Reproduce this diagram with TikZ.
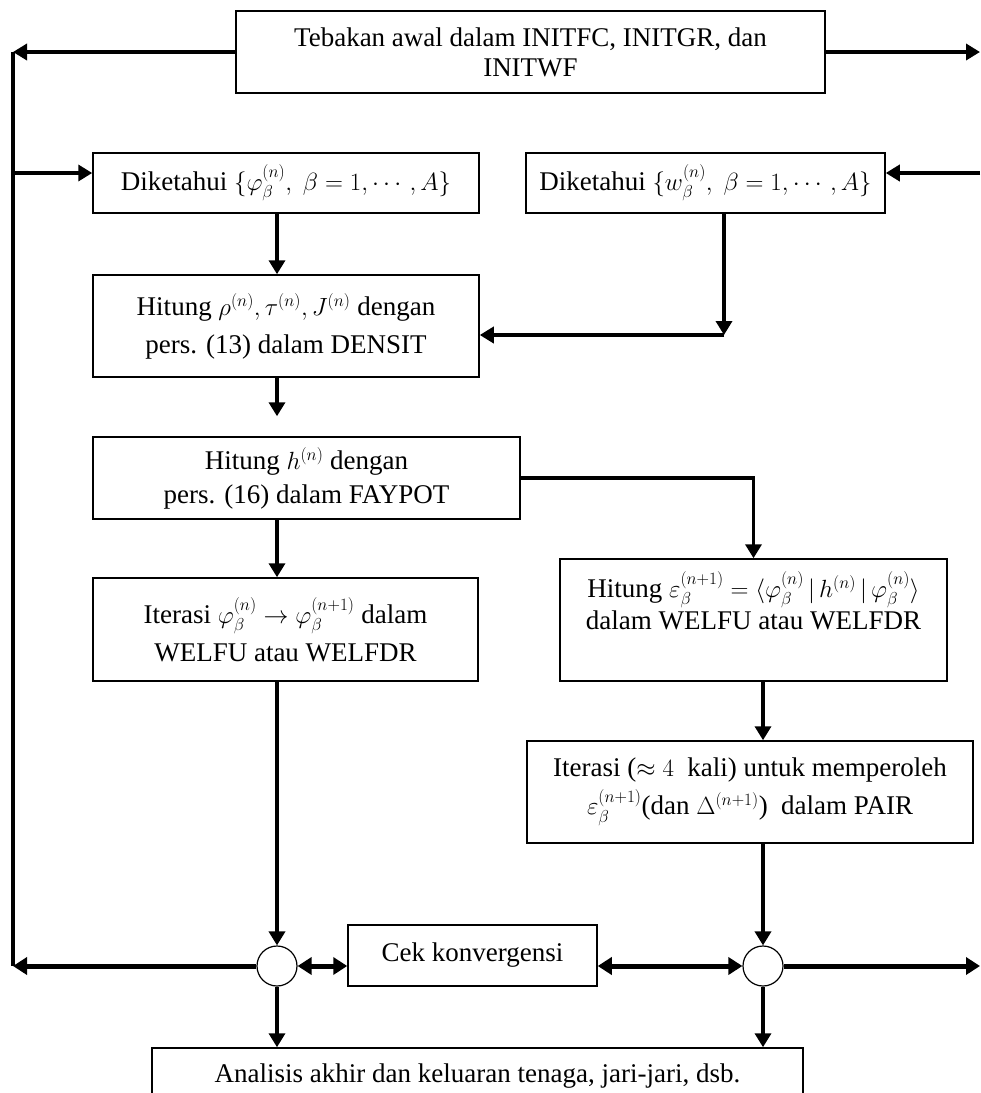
\documentclass[tikz,border=0pt]{standalone}
\usepackage{fontspec}
\setmainfont{Liberation Serif}
\usepackage{amsmath}
\usetikzlibrary{arrows.meta}

\begin{document}
\begin{tikzpicture}[x=1pt,y=-1pt,
  box/.style={draw=black, line width=1.5pt, align=center, inner sep=0pt, font=\fontsize{27}{38}\selectfont},
  arr/.style={black, line width=3.5pt, -{Triangle[length=14pt,width=16pt]}},
  heavy/.style={black, line width=5pt, -{Triangle[length=14pt,width=17pt]}},
  both/.style={black, line width=5pt, {Triangle[length=14pt,width=17pt]}-{Triangle[length=14pt,width=17pt]}},
  hub/.style={draw=black, line width=1.2pt, circle, minimum size=40pt, inner sep=0pt}]

\useasboundingbox (0,0) rectangle (981,1093);

\node[box, minimum width=589pt, minimum height=82pt] (init) at (530.5,52) {Tebakan awal dalam INITFC, INITGR, dan\\[-8pt]INITWF};

\node[box, minimum width=386pt, minimum height=60pt] (dkphi) at (286,183) {Diketahui $\{\varphi_\beta^{(n)},\ \beta = 1, \cdots, A\}$};
\node[box, minimum width=359pt, minimum height=60pt] (dkw) at (705.5,183) {Diketahui $\{w_\beta^{(n)},\ \beta = 1, \cdots, A\}$};

\node[box, minimum width=386pt, minimum height=102pt] (dens) at (286,326) {Hitung $\rho^{(n)}, \tau^{(n)}, J^{(n)}$ dengan\\pers. (13) dalam DENSIT};
\node[box, minimum width=427pt, minimum height=82pt] (fay) at (306.5,478) {Hitung $h^{(n)}$ dengan\\[-4pt]pers. (16) dalam FAYPOT};

\node[box, minimum width=385pt, minimum height=103pt] (welfu) at (285.5,629.5) {Iterasi $\varphi_\beta^{(n)} \rightarrow \varphi_\beta^{(n+1)}$ dalam\\WELFU atau WELFDR};
\node[box, minimum width=387pt, minimum height=122pt] (eps) at (753.5,620) {Hitung $\varepsilon_\beta^{(n+1)} = \langle \varphi_\beta^{(n)} \,|\, h^{(n)} \,|\, \varphi_\beta^{(n)} \rangle$\\[-6pt]dalam WELFU atau WELFDR\\[-10pt] \strut};
\node[box, minimum width=446pt, minimum height=102pt] (pair) at (750,792) {Iterasi ($\approx 4$\ \ kali) untuk memperoleh\\$\varepsilon_\beta^{(n+1)}$(dan $\Delta^{(n+1)}$)\ \ dalam PAIR};

\node[box, minimum width=249pt, minimum height=61pt] (cek) at (472.5,955.5) {Cek konvergensi};
\node[hub] (c1) at (277,966) {};
\node[hub] (c2) at (763,966) {};

\node[box, minimum width=651pt, minimum height=56pt] (final) at (477.5,1076) {Analisis akhir dan keluaran tenaga, jari-jari, dsb.};

\coordinate (Ltop) at (13,52);
\coordinate (Lmid) at (13,173);
\coordinate (Lbot) at (13,966);
\coordinate (Rtop) at (980,52);
\coordinate (Rmid) at (980,173);
\coordinate (Rbot) at (980,966);
\coordinate (join) at (724,335);

\draw[arr] (init.west) -- (Ltop);
\draw[arr] (init.east) -- (Rtop);
\draw[black, line width=3.5pt] (Ltop) -- (Lbot);
\draw[arr] (Lmid) -- (Lmid -| dkphi.west);
\draw[arr] (Rmid) -- (Rmid -| dkw.east);

\draw[arr] (dkphi.south -| c1) -- (dens.north -| c1);
\draw[arr] (dkw.south -| join) -- (join);
\draw[arr] (join) -- (join -| dens.east);
\draw[arr, shorten >=20pt] (dens.south -| c1) -- (fay.north -| c1);
\draw[arr] (fay.south -| c1) -- (welfu.north -| c1);
\draw[arr] (fay.east) -| (eps.north);
\draw[arr] (eps.south -| c2) -- (pair.north -| c2);

\draw[arr] (welfu.south -| c1) -- (c1.north);
\draw[arr] (pair.south -| c2) -- (c2.north);
\draw[heavy] (c1.west) -- (Lbot);
\draw[both] (c1.east) -- (c1.east -| cek.west);
\draw[both] (c2.west -| cek.east) -- (c2.west);
\draw[heavy] (c2.east) -- (Rbot);
\draw[arr] (c1.south) -- (final.north -| c1);
\draw[arr] (c2.south) -- (final.north -| c2);

\end{tikzpicture}
\end{document}
